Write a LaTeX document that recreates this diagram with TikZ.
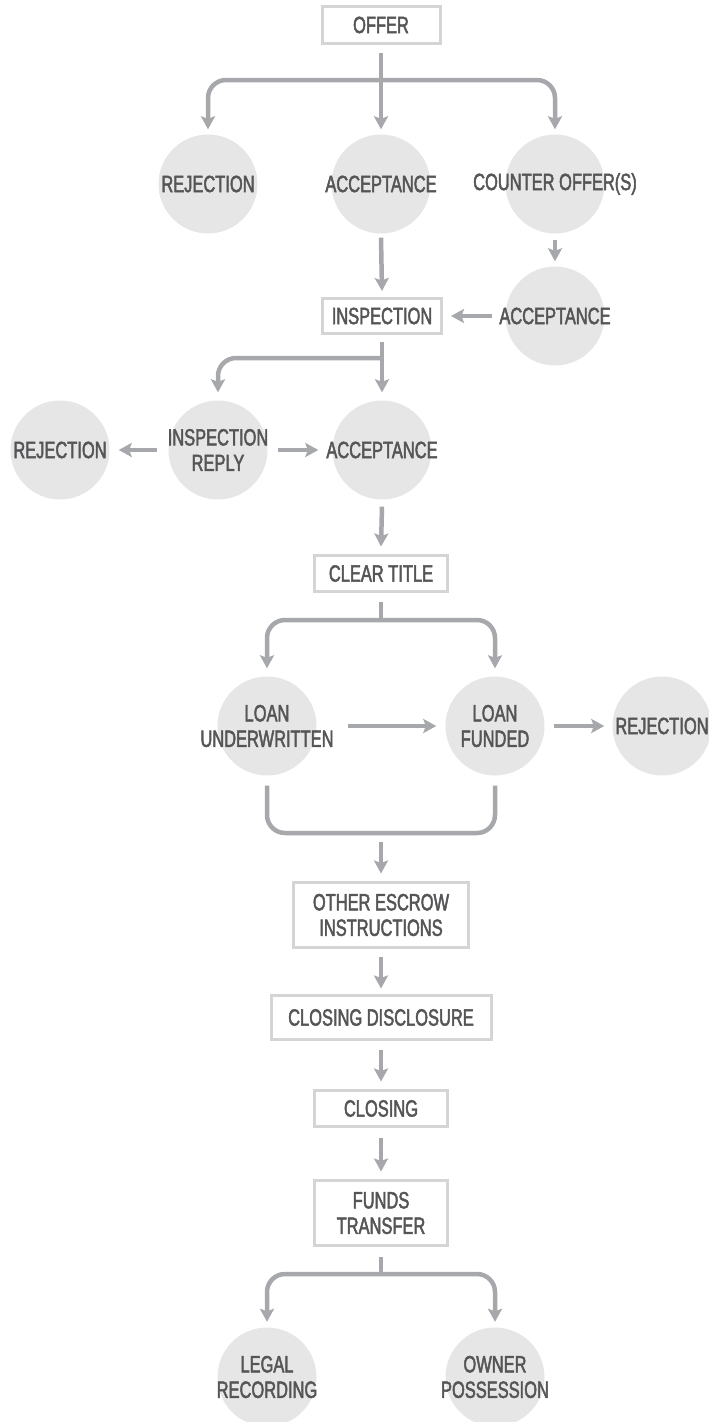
\documentclass[tikz,border=0pt]{standalone}
\usepackage{fontspec}
\setmainfont{Liberation Sans}[FakeStretch=0.70,FakeBold=2]
\usetikzlibrary{arrows.meta}
\definecolor{txt}{HTML}{555557}
\definecolor{arrc}{HTML}{A6A8AB}
\definecolor{boxc}{HTML}{D5D5D5}
\definecolor{circc}{HTML}{E6E6E6}
\newcommand{\lbfont}{\fontsize{23.5}{25.5}\selectfont}
\tikzset{
  box/.style={draw=boxc, line width=3pt, fill=white, inner sep=0pt, align=center, text=txt, font=\lbfont},
  circ/.style={circle, fill=circc, minimum size=99pt, inner sep=0pt},
  lab/.style={text=txt, align=center, font=\lbfont, inner sep=0pt},
  arr/.style={draw=arrc, line width=4.5pt, -{Stealth[length=13pt,width=14pt,inset=2.5pt]}},
  ln/.style={draw=arrc, line width=4.5pt},
  rc/.style={rounded corners=18pt}
}
\begin{document}
\begin{tikzpicture}[x=1pt,y=-1pt]
\useasboundingbox (0,0) rectangle (709,1422);
\clip (0,0) rectangle (709,1422);
% boxes
\node[box, minimum width=118pt, minimum height=37pt] (offer) at (381,25) {OFFER};
\node[box, minimum width=119pt, minimum height=35pt] (insp) at (382,316) {INSPECTION};
\node[box, minimum width=133pt, minimum height=36pt] (clear) at (381,573.5) {CLEAR TITLE};
\node[box, minimum width=175pt, minimum height=65pt] (escrow) at (381,915) {OTHER ESCROW\\INSTRUCTIONS};
\node[box, minimum width=220pt, minimum height=44pt] (disc) at (381,1017.5) {CLOSING DISCLOSURE};
\node[box, minimum width=133pt, minimum height=36pt] (closing) at (381,1108.5) {CLOSING};
\node[box, minimum width=133pt, minimum height=65pt] (funds) at (381,1213) {FUNDS\\TRANSFER};
% circles
\node[circ, label={[lab]center:REJECTION}] (rej1) at (208,184) {};
\node[circ, label={[lab]center:ACCEPTANCE}] (acc1) at (381,184) {};
\node[circ, label={[lab]center:COUNTER OFFER(S)}] (cnt) at (555,184) {};
\node[circ, label={[lab]center:ACCEPTANCE}] (acc2) at (555,316) {};
\node[circ, label={[lab]center:REJECTION}] (rej2) at (60,450) {};
\node[circ, label={[lab]center:INSPECTION\\REPLY}] (irep) at (218,450) {};
\node[circ, label={[lab]center:ACCEPTANCE}] (acc3) at (382,450) {};
\node[circ, label={[lab]center:LOAN\\UNDERWRITTEN}] (lu) at (267,726) {};
\node[circ, label={[lab]center:LOAN\\FUNDED}] (lf) at (495,726) {};
\node[circ, label={[lab]center:REJECTION}] (rej3) at (662,726) {};
\node[circ, label={[lab]center:LEGAL\\RECORDING}] (legal) at (267,1377) {};
\node[circ, label={[lab]center:OWNER\\POSSESSION}] (owner) at (495,1377) {};
% junctions
\coordinate (j1) at (381,80);
\coordinate (j2) at (382,358);
\coordinate (j3) at (381,620);
\coordinate (j4) at (381,833);
\coordinate (j5) at (381,1274);
% offer
\draw[arr] ([yshift=-8pt]offer.south) -- ([yshift=5pt]acc1.north);
\draw[arr, rc] (j1) -| ([yshift=5pt]rej1.north);
\draw[arr, rc] (j1) -| ([yshift=5pt]cnt.north);
% counter
\draw[arr] ([yshift=-6pt]cnt.south) -- ([yshift=5pt]acc2.north);
\draw[arr] ([xshift=-13pt]acc2.west) -- ([xshift=8pt]insp.east);
\draw[arr] ([yshift=-4pt]acc1.south) -- ([yshift=6pt]insp.north);
% inspection
\draw[arr] ([yshift=-7pt]insp.south) -- ([yshift=8pt]acc3.north);
\draw[arr, rc] (j2) -| ([yshift=8pt]irep.north);
\draw[arr] ([xshift=-11pt]irep.west) -- ([xshift=9pt]rej2.east);
\draw[arr] ([xshift=10pt]irep.east) -- ([xshift=-14pt]acc3.west);
% clear title
\draw[arr] ([yshift=-7pt]acc3.south) -- ([yshift=7.5pt]clear.north);
\draw[ln] ([yshift=-9pt]clear.south) -- (j3);
\draw[arr, rc] (j3) -| ([yshift=8pt]lu.north);
\draw[arr, rc] (j3) -| ([yshift=8pt]lf.north);
\draw[arr] ([xshift=31pt]lu.east) -- ([xshift=-9pt]lf.west);
\draw[arr] ([xshift=9pt]lf.east) -- ([xshift=-8pt]rej3.west);
\draw[ln, rc] ([yshift=-10pt]lu.south) |- (j4) -| ([yshift=-10pt]lf.south);
\draw[arr] ([yshift=-9pt]j4) -- ([yshift=7.5pt]escrow.north);
% chain
\draw[arr] ([yshift=-7.5pt]escrow.south) -- ([yshift=5.5pt]disc.north);
\draw[arr] ([yshift=-8.5pt]disc.south) -- ([yshift=7.5pt]closing.north);
\draw[arr] ([yshift=-10pt]closing.south) -- ([yshift=7.5pt]funds.north);
\draw[ln] ([yshift=-9.5pt]funds.south) -- (j5);
\draw[arr, rc] (j5) -| ([yshift=5.5pt]legal.north);
\draw[arr, rc] (j5) -| ([yshift=5.5pt]owner.north);
\end{tikzpicture}
\end{document}
